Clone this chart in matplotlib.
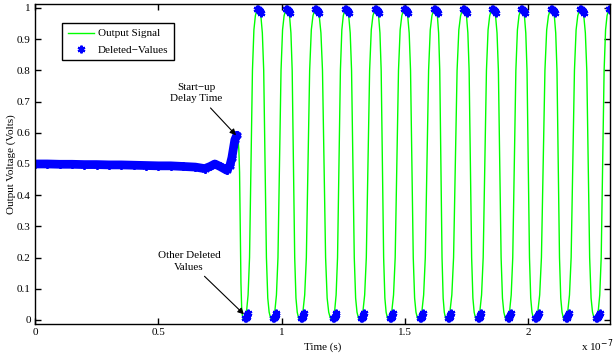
import numpy as np
import matplotlib.pyplot as plt

plt.rcParams['font.family'] = ['Liberation Serif', 'DejaVu Serif']
plt.rcParams['font.size'] = 8

# time values in units of 1e-7 s
# start-up region (read along the blue band)
start_t = [0.0, 0.05, 0.1, 0.15, 0.2, 0.25, 0.3, 0.35, 0.4, 0.45, 0.5, 0.55,
           0.6, 0.65, 0.688, 0.71, 0.729, 0.75, 0.777, 0.79, 0.798, 0.81, 0.818]
start_v = [0.500, 0.500, 0.499, 0.499, 0.498, 0.498, 0.497, 0.497, 0.496, 0.495,
           0.494, 0.494, 0.492, 0.490, 0.485, 0.492, 0.500, 0.492, 0.480, 0.495,
           0.520, 0.577, 0.592]

# extremes of the output signal after start-up
trough_t = [0.846, 0.960, 1.073, 1.203, 1.316, 1.433, 1.555, 1.668, 1.790,
            1.911, 2.024, 2.146, 2.271]
peak_t = [0.905, 1.022, 1.140, 1.261, 1.383, 1.500, 1.622, 1.739, 1.856,
          1.974, 2.095, 2.213, 2.330]

# shape of one edge (fraction of half cycle -> fraction of swing)
edge_frac = [0, 0.1, 0.2, 0.3, 0.4, 0.5, 0.6, 0.7, 0.8, 0.9, 1.0]
edge_level = [0, 0.008, 0.03, 0.08, 0.2, 0.5, 0.8, 0.93, 0.975, 0.993, 1.0]

# deleted value clusters at peaks and troughs
peak_dots = [0.911, 1.028, 1.146, 1.267, 1.389, 1.506, 1.628, 1.745, 1.862,
             1.980, 2.101, 2.219, 2.336]
trough_dots = [0.858, 0.972, 1.085, 1.215, 1.328, 1.445, 1.567, 1.680, 1.802,
               1.923, 2.036, 2.158, 2.283]
pk_dt = [-0.010, -0.006, -0.002, 0.002, 0.006]
pk_dv = [0.998, 0.997, 0.995, 0.991, 0.985]
tr_dt = [-0.008, -0.004, 0.0, 0.003, 0.005]
tr_dv = [0.006, 0.007, 0.010, 0.015, 0.022]

# build the green signal from start-up band and extremes
ext_t = [start_t[-1]]
ext_v = [start_v[-1]]
for tr, pk in zip(trough_t, peak_t):
    ext_t += [tr, pk]
    ext_v += [0.0, 1.0]

sig_t = list(start_t)
sig_v = list(start_v)
ef = np.array(edge_frac)
el = np.array(edge_level)
for i in range(len(ext_t) - 1):
    t0, t1 = ext_t[i], ext_t[i + 1]
    v0, v1 = ext_v[i], ext_v[i + 1]
    sig_t += list(t0 + (t1 - t0) * ef[1:])
    sig_v += list(v0 + (v1 - v0) * el[1:])

dot_t, dot_v = [], []
for p in peak_dots:
    for dt, dv in zip(pk_dt, pk_dv):
        dot_t.append(p + dt)
        dot_v.append(dv)
for p in trough_dots:
    for dt, dv in zip(tr_dt, tr_dv):
        dot_t.append(p + dt)
        dot_v.append(dv)

asterisk = (6, 2, 0)

fig = plt.figure(figsize=(6.13, 3.58), dpi=100)
ax = fig.add_axes([0.057, 0.095, 0.938, 0.894])

ax.plot(sig_t, sig_v, color=(0, 1, 0), lw=1.0, label='Output Signal')
# thick band of deleted values during start-up
ax.plot(start_t, start_v, color='b', lw=6.3, solid_capstyle='round')
ax.plot(start_t, start_v, ls='none', marker=asterisk, color='b', ms=6, mew=1.5)
ax.plot(dot_t, dot_v, ls='none', marker=asterisk, color='b', ms=5.5, mew=1.6,
        label='Deleted\u2212Values')

ax.set_xlim(0, 2.33)
ax.set_ylim(-0.013, 1.013)
ax.set_xticks([0, 0.5, 1, 1.5, 2])
ax.set_xticklabels(['0', '0.5', '1', '1.5', '2'])
ax.set_yticks(np.arange(0, 1.01, 0.1))
ax.set_yticklabels(['0', '0.1', '0.2', '0.3', '0.4', '0.5', '0.6', '0.7',
                    '0.8', '0.9', '1'])
ax.tick_params(direction='in', top=True, right=True, length=4, width=1,
               labelsize=8, pad=3)
for s in ax.spines.values():
    s.set_linewidth(1.0)

ax.set_xlabel('Time (s)', fontsize=8, labelpad=4)
ax.set_ylabel('Output Voltage (Volts)', fontsize=8, labelpad=1)
fig.text(0.948, 0.012, 'x 10$^{-7}$', fontsize=8, ha='left', va='bottom')

ax.annotate('Start\u2212up\nDelay Time', xy=(0.815, 0.592), xytext=(0.655, 0.695),
            ha='center', va='bottom', fontsize=8, linespacing=1.3,
            arrowprops=dict(arrowstyle='-|>', color='k', lw=0.8,
                            mutation_scale=9, shrinkA=2, shrinkB=0))
ax.annotate('Other Deleted\nValues', xy=(0.847, 0.018), xytext=(0.625, 0.155),
            ha='center', va='bottom', fontsize=8, linespacing=1.3,
            arrowprops=dict(arrowstyle='-|>', color='k', lw=0.8,
                            mutation_scale=9, shrinkA=2, shrinkB=0))

leg = ax.legend(loc='upper left', bbox_to_anchor=(0.047, 0.94), borderaxespad=0,
                fancybox=False, edgecolor='k', framealpha=1, fontsize=8,
                handlelength=2.4, handletextpad=0.3, numpoints=1,
                borderpad=0.5, labelspacing=0.6)
leg.get_frame().set_linewidth(1.0)

fig.savefig('out.png', dpi=100)
